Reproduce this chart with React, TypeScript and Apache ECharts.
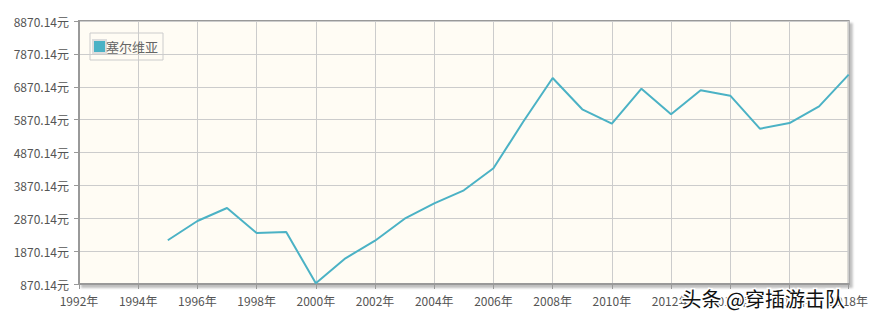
import React, { useEffect, useRef } from "react";
import * as echarts from "echarts";

const seriesName = "塞尔维亚";
const years = [1995, 1996, 1997, 1998, 1999, 2000, 2001, 2002, 2003, 2004, 2005, 2006, 2007, 2008, 2009, 2010, 2011, 2012, 2013, 2014, 2015, 2016, 2017, 2018];
const values = [2200, 2786, 3182, 2421, 2452, 890, 1652, 2187, 2856, 3325, 3720, 4389, 5798, 7136, 6184, 5746, 6811, 6032, 6762, 6598, 5594, 5767, 6275, 7237];
const yTickLabels = ["870.14元", "1870.14元", "2870.14元", "3870.14元", "4870.14元", "5870.14元", "6870.14元", "7870.14元", "8870.14元"];
const yMin = 870.14;
const yMax = 8870.14;
const xMin = 1992;
const xMax = 2018;
const watermark = "头条 @穿插游击队";

const FONT = "'Noto Sans CJK SC', 'Noto Sans', sans-serif";

export default function App() {
  const ref = useRef<HTMLDivElement>(null);
  useEffect(() => {
    if (!ref.current) return;
    const chart = echarts.init(ref.current, null, { renderer: "svg" });
    chart.setOption({
      animation: false,
      textStyle: { fontFamily: FONT },
      legend: {
        data: [{ name: seriesName, icon: "rect" }],
        left: 90,
        top: 33,
        orient: "vertical",
        padding: [6, 5, 6, 2],
        itemWidth: 13,
        itemHeight: 13,
        itemGap: 2,
        backgroundColor: "rgba(255,255,255,0)",
        borderColor: "#ccc",
        borderWidth: 1,
        borderRadius: 0,
        textStyle: { color: "#666", fontSize: 13, padding: [0, 0, 0, -5], fontFamily: FONT },
      },
      grid: {
        left: 79,
        right: 21,
        top: 21,
        bottom: 37,
        show: true,
        backgroundColor: "#FFFCF4",
        borderColor: "#999",
        borderWidth: 2,
        shadowColor: "rgba(0,0,0,0.25)",
        shadowBlur: 2,
        shadowOffsetX: 3,
        shadowOffsetY: 3,
      },
      xAxis: {
        type: "value",
        min: xMin,
        max: xMax,
        interval: 2,
        axisLine: { show: true, lineStyle: { color: "#999", width: 2 } },
        axisTick: { show: true, length: 5, lineStyle: { color: "#999", width: 1 } },
        splitLine: { show: true, lineStyle: { color: "#ccc", width: 1 } },
        axisLabel: {
          color: "#555",
          fontSize: 12,
          margin: 10,
          fontFamily: FONT,
          formatter: (v: number) => `${v}年`,
        },
      },
      yAxis: [
        {
          type: "value",
          min: yMin,
          max: yMax,
          show: false,
          splitLine: { show: false },
        },
        {
          type: "category",
          position: "left",
          boundaryGap: false,
          data: yTickLabels,
          axisLine: { show: true, lineStyle: { color: "#999", width: 2 } },
          axisTick: { show: true, length: 5, lineStyle: { color: "#999", width: 1 } },
          splitLine: { show: true, lineStyle: { color: "#ccc", width: 1 } },
          axisLabel: { color: "#555", fontSize: 12, margin: 10, fontFamily: FONT },
        },
      ],
      series: [
        {
          name: seriesName,
          type: "line",
          yAxisIndex: 0,
          data: years.map((y, i) => [y, values[i]]),
          showSymbol: false,
          symbol: "none",
          lineStyle: { color: "#4BB2C5", width: 2 },
          itemStyle: { color: "#4BB2C5", borderColor: "#ddd", borderWidth: 1 },
        },
      ],
      graphic: [
        {
          type: "text",
          left: 680,
          top: 287,
          z: 100,
          style: {
            text: watermark,
            fill: "#111",
            stroke: "#fff",
            lineWidth: 3,
            fontSize: 20,
            fontFamily: FONT,
          },
        },
      ],
    });
    return () => chart.dispose();
  }, []);
  return (
    <div
      ref={ref}
      style={{ position: "absolute", left: 0, top: 0, width: 871, height: 321 }}
    />
  );
}
